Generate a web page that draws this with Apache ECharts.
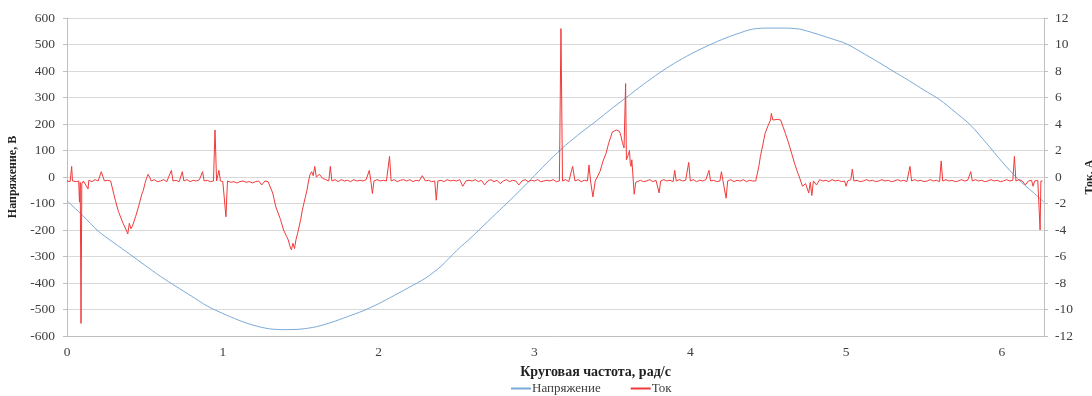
<!DOCTYPE html>
<html>
<head>
<meta charset="utf-8">
<script src="https://cdn.jsdelivr.net/npm/echarts@6/dist/echarts.min.js"></script>
<style>
html,body{margin:0;padding:0;background:#fff;}
#chart{width:1092px;height:396px;}
</style>
</head>
<body>
<div id="chart"></div>
<script>
// Voltage, V (left axis): [angular frequency, voltage]
var voltagePoints = [
[0,-90],[0.1,-145],[0.2,-204],[0.3,-248],[0.4,-290],[0.5,-333],[0.6,-375],[0.7,-413],[0.8,-450],[0.9,-487],
[1.0,-515],[1.1,-540],[1.2,-560],[1.3,-573],[1.4,-576],[1.5,-574],[1.6,-565],[1.7,-548],[1.8,-527],[1.9,-505],
[2.0,-478],[2.1,-447],[2.2,-415],[2.3,-382],[2.4,-337],[2.5,-278],[2.6,-225],[2.7,-168],[2.8,-112],[2.9,-55],
[3.0,5],[3.1,65],[3.2,120],[3.3,168],[3.4,213],[3.5,260],[3.6,305],[3.7,350],[3.8,392],[3.9,430],
[4.0,463],[4.1,492],[4.2,518],[4.3,540],[4.4,558],[4.5,562],[4.6,562],[4.7,558],[4.8,542],[4.9,523],
[5.0,503],[5.1,470],[5.2,436],[5.3,400],[5.4,365],[5.5,328],[5.6,292],[5.7,245],[5.8,195],[5.9,128],
[6.0,58],[6.1,-6],[6.2,-58],[6.27,-95]
];
// Current, A (right axis): [angular frequency, current]
var currentPoints = [
[0,-0.3],[0.01,-0.2],[0.02,-0.35],[0.03,0.8],[0.035,-0.3],[0.045,-0.25],[0.06,-0.35],[0.075,-0.3],[0.08,-1.9],[0.085,-0.4],
[0.09,-11.05],[0.095,-0.5],[0.105,-0.3],[0.12,-0.6],[0.135,-0.9],[0.14,-0.25],[0.16,-0.35],[0.18,-0.2],[0.2,-0.3],[0.22,0.4],
[0.24,-0.3],[0.26,-0.25],[0.28,-0.3],[0.29,-0.35],
[0.31,-1.75],[0.33,-2.6],[0.36,-3.5],[0.38,-4.0],[0.39,-4.3],[0.40,-3.5],[0.41,-3.9],[0.42,-3.7],[0.44,-3.0],[0.46,-2.2],
[0.48,-1.3],[0.49,-1.0],[0.50,-0.5],[0.51,-0.1],[0.52,0.2],[0.53,0],[0.54,-0.3],
[0.56,-0.2],[0.58,-0.35],[0.60,-0.3],[0.62,-0.2],[0.64,-0.35],[0.67,0.5],[0.68,-0.3],[0.70,-0.25],[0.72,-0.35],[0.74,0.4],
[0.75,-0.3],[0.77,-0.2],[0.79,-0.35],[0.81,-0.25],[0.83,-0.3],[0.85,-0.2],[0.87,0.4],[0.88,-0.3],[0.90,-0.25],[0.92,-0.35],
[0.94,-0.3],[0.95,3.55],[0.96,-0.3],[0.975,0.5],[0.985,-0.3],[1.0,-0.35],[1.01,-0.3],[1.02,-3.0],[1.03,-0.3],[1.05,-0.4],
[1.07,-0.35],[1.09,-0.45],[1.11,-0.35],[1.13,-0.3],[1.15,-0.4],[1.17,-0.35],[1.19,-0.45],[1.21,-0.35],[1.23,-0.3],[1.25,-0.6],
[1.27,-0.3],[1.29,-0.35],[1.30,-0.4],
[1.32,-1.2],[1.34,-2.25],[1.37,-3.2],[1.39,-4.0],[1.41,-4.5],[1.42,-4.75],[1.43,-5.2],[1.44,-5.5],[1.45,-5.0],[1.46,-5.4],
[1.47,-4.7],[1.48,-4.25],[1.50,-3.2],[1.51,-2.5],[1.53,-1.5],[1.54,-1.0],[1.55,-0.3],[1.56,0.2],[1.57,0.4],[1.58,0.1],
[1.59,0.8],[1.60,0.0],[1.62,0.2],[1.64,-0.1],[1.66,-0.2],
[1.68,-0.3],[1.69,0.8],[1.70,-0.3],[1.72,-0.2],[1.74,-0.35],[1.76,-0.2],[1.78,-0.3],[1.80,-0.25],[1.82,-0.35],[1.84,-0.2],
[1.86,-0.3],[1.88,-0.25],[1.90,-0.3],[1.92,-0.2],[1.94,0.5],[1.95,-0.3],[1.96,-1.25],[1.97,-0.3],[1.99,-0.2],[2.01,-0.3],
[2.03,-0.25],[2.05,-0.3],[2.07,1.55],[2.08,-0.3],[2.10,-0.2],[2.12,-0.35],[2.14,-0.25],[2.16,-0.2],[2.18,-0.3],[2.20,-0.2],
[2.22,-0.35],[2.24,-0.25],[2.26,-0.3],[2.28,0.1],[2.30,-0.3],[2.32,-0.25],[2.34,-0.35],[2.36,-0.3],[2.37,-1.75],[2.38,-0.3],
[2.40,-0.25],[2.42,-0.35],[2.44,-0.2],[2.46,-0.3],[2.48,-0.25],[2.50,-0.3],[2.52,-0.2],[2.54,-0.7],[2.56,-0.3],[2.58,-0.25],
[2.60,-0.3],[2.62,-0.2],[2.64,-0.35],[2.66,-0.25],[2.68,-0.6],[2.70,-0.3],[2.72,-0.2],[2.74,-0.35],[2.76,-0.25],[2.78,-0.5],
[2.80,-0.3],[2.82,-0.2],[2.84,-0.35],[2.86,-0.25],[2.88,-0.3],[2.90,-0.6],[2.92,-0.3],[2.94,-0.2],[2.96,-0.35],[2.98,-0.25],
[3.00,-0.3],[3.02,-0.2],[3.04,-0.35],[3.06,-0.3],[3.08,-0.25],[3.10,-0.3],[3.12,-0.2],[3.14,-0.35],[3.16,-0.3],[3.17,11.2],
[3.18,-0.3],[3.20,-0.2],[3.22,-0.35],[3.245,0.8],[3.26,-0.3],[3.28,-0.2],[3.30,-0.35],[3.32,-0.25],[3.34,-0.3],[3.35,0.9],
[3.36,-0.3],[3.375,-1.5],[3.39,-0.3],[3.40,-0.25],
[3.42,0.4],[3.44,1.2],[3.46,1.8],[3.475,2.5],[3.49,3.05],[3.50,3.4],[3.51,3.5],[3.525,3.55],[3.545,3.45],[3.555,3.1],
[3.565,2.55],[3.575,2.2],[3.585,7.05],[3.59,1.3],[3.60,1.6],[3.61,2.0],[3.615,1.0],[3.62,0.8],[3.625,1.3],[3.64,-1.3],
[3.65,-0.4],[3.66,-0.3],
[3.68,-0.25],[3.70,-0.35],[3.72,-0.3],[3.74,-0.2],[3.76,-0.35],[3.78,-0.25],[3.80,-1.2],[3.81,-0.3],[3.83,-0.2],[3.85,-0.3],
[3.87,-0.25],[3.89,-0.35],[3.90,0.5],[3.91,-0.3],[3.93,-0.2],[3.95,-0.3],[3.97,-0.25],[3.99,1.1],[4.00,-0.3],[4.02,-0.2],
[4.04,-0.35],[4.06,-0.25],[4.08,-0.3],[4.10,-0.2],[4.12,0.5],[4.13,-0.3],[4.15,-0.25],[4.17,-0.35],[4.19,-0.3],[4.20,0.4],
[4.21,-0.3],[4.23,-1.6],[4.24,-0.3],[4.26,-0.2],[4.28,-0.35],[4.30,-0.25],[4.32,-0.3],[4.34,-0.2],[4.36,-0.35],[4.38,-0.25],
[4.40,-0.3],[4.42,-0.3],
[4.44,0.8],[4.45,1.55],[4.465,2.4],[4.48,3.3],[4.50,3.9],[4.515,4.3],[4.52,4.8],[4.53,4.3],[4.56,4.35],[4.58,4.3],
[4.595,3.8],[4.61,3.3],[4.63,2.6],[4.65,1.8],[4.67,1.0],[4.69,0.3],[4.70,0],[4.72,-0.7],[4.74,-0.5],[4.76,-1.2],
[4.77,-0.4],[4.78,-1.4],[4.79,-0.3],[4.81,-0.6],[4.83,-0.2],[4.85,-0.3],
[4.87,-0.25],[4.89,-0.35],[4.91,-0.2],[4.93,-0.3],[4.95,-0.25],[4.97,-0.35],[4.99,-0.3],[5.00,-0.7],[5.01,-0.3],[5.03,-0.2],
[5.04,0.6],[5.05,-0.3],[5.07,-0.25],[5.09,-0.35],[5.11,-0.3],[5.13,-0.2],[5.15,-0.3],[5.17,-0.25],[5.19,-0.35],[5.21,-0.3],
[5.23,-0.2],[5.25,-0.3],[5.27,-0.25],[5.29,-0.35],[5.31,-0.3],[5.33,-0.2],[5.35,-0.3],[5.37,-0.25],[5.39,-0.35],[5.41,0.8],
[5.42,-0.3],[5.44,-0.2],[5.46,-0.3],[5.48,-0.25],[5.50,-0.35],[5.52,-0.3],[5.54,-0.2],[5.56,-0.3],[5.58,-0.25],[5.60,-0.35],
[5.61,1.2],[5.62,-0.3],[5.64,-0.2],[5.66,-0.3],[5.68,-0.25],[5.70,-0.35],[5.72,-0.3],[5.74,-0.2],[5.76,-0.3],[5.78,-0.25],
[5.80,0.4],[5.81,-0.3],[5.83,-0.2],[5.85,-0.3],[5.87,-0.25],[5.89,-0.35],[5.91,-0.3],[5.93,-0.2],[5.95,-0.3],[5.97,-0.25],
[5.99,-0.35],[6.01,-0.3],[6.03,-0.2],[6.05,-0.3],[6.07,-0.25],[6.08,1.55],[6.09,-0.3],[6.11,-0.2],[6.13,-0.3],[6.15,-0.6],
[6.17,-0.3],[6.19,-0.25],[6.20,-0.7],[6.21,-0.3],[6.23,-0.25],[6.24,-0.3],[6.245,-4.0],[6.25,-0.3],[6.26,-0.3]
];
var seriesNames = ['Напряжение', 'Ток'];
var xTitle = 'Круговая частота, рад/с';
var leftTitle = 'Напряжение, В';
var rightTitle = 'Ток, А';

var serif = '"Liberation Serif", "DejaVu Serif", serif';
var chart = echarts.init(document.getElementById('chart'), null, {renderer: 'canvas'});
chart.setOption({
  animation: false,
  backgroundColor: '#fff',
  grid: {left: 67, right: 48, top: 18, bottom: 60, containLabel: false, outerBoundsMode: 'none'},
  legend: {
    data: seriesNames,
    left: 511, top: 382, padding: 0,
    itemWidth: 20, itemHeight: 2, itemGap: 30,
    icon: 'rect',
    textStyle: {fontFamily: serif, fontSize: 13, color: '#404040', padding: [0,0,0,-4]}
  },
  xAxis: {
    type: 'value', min: 0, max: 6.27, interval: 1,
    name: xTitle, nameLocation: 'middle', nameGap: 29,
    nameTextStyle: {fontFamily: serif, fontSize: 14, fontWeight: 'bold', color: '#222', padding: [0,0,0,80]},
    axisLine: {show: true, onZero: false, lineStyle: {color: '#bfbfbf'}},
    axisTick: {show: false},
    splitLine: {show: false},
    axisLabel: {fontFamily: serif, fontSize: 13.5, color: '#404040', margin: 9, showMaxLabel: false}
  },
  yAxis: [{
    type: 'value', min: -600, max: 600, interval: 100,
    name: leftTitle, nameLocation: 'middle', nameGap: 46, nameRotate: 90,
    nameTextStyle: {fontFamily: serif, fontSize: 12, fontWeight: 'bold', color: '#222'},
    axisLine: {show: true, lineStyle: {color: '#bfbfbf'}},
    axisTick: {show: true, length: 4, lineStyle: {color: '#bfbfbf'}},
    splitLine: {show: true, lineStyle: {color: '#d9d9d9', width: 1}},
    axisLabel: {fontFamily: serif, fontSize: 13.5, color: '#404040', margin: 12}
  }, {
    type: 'value', min: -12, max: 12, interval: 2, position: 'right',
    name: rightTitle, nameLocation: 'middle', nameGap: 40, nameRotate: 90,
    nameTextStyle: {fontFamily: serif, fontSize: 12, fontWeight: 'bold', color: '#222'},
    axisLine: {show: true, lineStyle: {color: '#bfbfbf'}},
    axisTick: {show: true, length: 4, lineStyle: {color: '#bfbfbf'}},
    splitLine: {show: false},
    axisLabel: {fontFamily: serif, fontSize: 13.5, color: '#404040', margin: 11}
  }],
  series: [{
    name: seriesNames[0], type: 'line', yAxisIndex: 0,
    data: voltagePoints, showSymbol: false, symbol: 'none', smooth: 0.3,
    lineStyle: {color: '#7aaad8', width: 1},
    itemStyle: {color: '#7aaad8'}, z: 2
  }, {
    name: seriesNames[1], type: 'line', yAxisIndex: 1,
    data: currentPoints, showSymbol: false, symbol: 'none',
    lineStyle: {color: '#f03a3a', width: 1},
    itemStyle: {color: '#f03a3a'}, z: 3
  }]
});
</script>
</body>
</html>
